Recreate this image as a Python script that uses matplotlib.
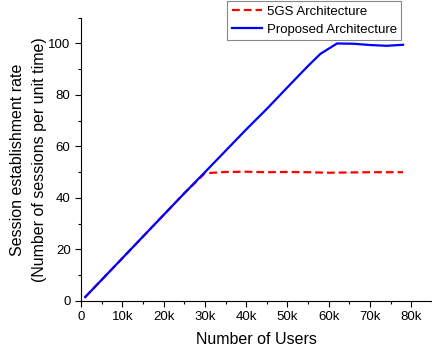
import matplotlib
matplotlib.use("Agg")
import matplotlib.pyplot as plt
from matplotlib.ticker import MultipleLocator, FuncFormatter

plt.rcParams['font.family'] = ['Liberation Sans', 'DejaVu Sans']

# session establishment rate vs. number of users (users in thousands)
users_prop = [1, 5, 10, 15, 20, 25, 30, 35, 40, 45, 50, 55, 58, 62, 66, 70, 74, 78]
rate_prop = [1.5, 8.2, 16.6, 25.0, 33.4, 41.8, 50.0, 58.3, 66.6, 74.6, 83.0, 91.3, 96.0, 100.0, 99.9, 99.4, 99.1, 99.5]

users_5gs = [1, 5, 10, 15, 20, 25, 30, 35, 40, 45, 50, 55, 60, 65, 70, 78]
rate_5gs = [1.5, 8.2, 16.6, 25.0, 33.4, 41.8, 49.6, 50.1, 50.2, 50.0, 50.1, 50.0, 49.8, 49.9, 50.0, 50.0]

fig = plt.figure(figsize=(4.32, 3.51), dpi=100)
ax = fig.add_axes([0.1875, 0.1425, 0.8125, 0.807])

ax.plot([u * 1000 for u in users_5gs], rate_5gs, color='red', ls='--', lw=1.6, dashes=(3.5, 1.8),
        label='5GS Architecture')
ax.plot([u * 1000 for u in users_prop], rate_prop, color='blue', lw=1.6,
        label='Proposed Architecture')

ax.set_xlim(0, 85000)
ax.set_ylim(0, 110)
ax.xaxis.set_major_locator(MultipleLocator(10000))
ax.xaxis.set_minor_locator(MultipleLocator(5000))
ax.yaxis.set_major_locator(MultipleLocator(20))
ax.yaxis.set_minor_locator(MultipleLocator(10))
ax.xaxis.set_major_formatter(FuncFormatter(lambda v, p: '0' if v == 0 else f'{int(v / 1000)}k'))

for side in ('top', 'right'):
    ax.spines[side].set_visible(False)
ax.tick_params(which='major', direction='out', length=4, width=0.8, labelsize=9.5)
ax.tick_params(which='minor', direction='out', length=2.5, width=0.8)

ax.set_xlabel('Number of Users', fontsize=11.5, labelpad=6)
ax.set_ylabel('Session establishment rate\n(Number of sessions per unit time)', fontsize=11.5,
              labelpad=1, linespacing=1.55)

leg = ax.legend(loc='upper right', bbox_to_anchor=(0.913, 1.06), fontsize=9.5, fancybox=False,
                framealpha=1, edgecolor='#888888', borderpad=0.35, handlelength=2.3,
                handletextpad=0.35, labelspacing=0.45, borderaxespad=0)
leg.get_frame().set_linewidth(0.8)

fig.savefig('out.png', dpi=100)
